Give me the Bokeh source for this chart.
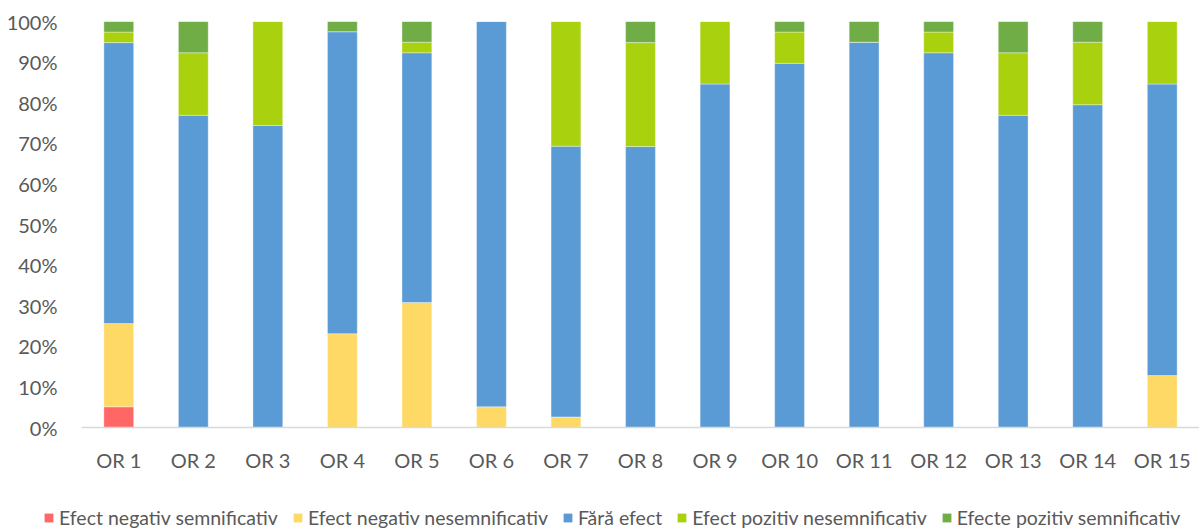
from bokeh.plotting import figure
from bokeh.models import FactorRange, Range1d, FixedTicker, PrintfTickFormatter, Legend, LegendItem
from bokeh.embed import file_html
from bokeh.resources import INLINE

categories = ["OR 1", "OR 2", "OR 3", "OR 4", "OR 5", "OR 6", "OR 7", "OR 8",
              "OR 9", "OR 10", "OR 11", "OR 12", "OR 13", "OR 14", "OR 15"]

neg_sig = [5.1, 0, 0, 0, 0, 0, 0, 0, 0, 0, 0, 0, 0, 0, 0]
neg_nonsig = [20.5, 0, 0, 23.1, 30.8, 5.1, 2.6, 0, 0, 0, 0, 0, 0, 0, 12.8]
no_effect = [69.2, 76.9, 74.4, 74.4, 61.5, 94.9, 66.7, 69.2, 84.6, 89.7, 94.9, 92.3, 76.9, 79.5, 71.8]
pos_nonsig = [2.6, 15.4, 25.6, 0, 2.6, 0, 30.7, 25.6, 15.4, 7.7, 0, 5.1, 15.4, 15.4, 15.4]
pos_sig = [2.6, 7.7, 0, 2.5, 5.1, 0, 0, 5.2, 0, 2.6, 5.1, 2.6, 7.7, 5.1, 0]

series_keys = ["neg_sig", "neg_nonsig", "no_effect", "pos_nonsig", "pos_sig"]
series_labels = ["Efect negativ semnificativ", "Efect negativ nesemnificativ", "Fără efect",
                 "Efect pozitiv nesemnificativ", "Efecte pozitiv semnificativ"]
colors = ["#FF6666", "#FFD966", "#5B9BD5", "#A9D10E", "#70AD47"]

y_ticks = [0, 10, 20, 30, 40, 50, 60, 70, 80, 90, 100]

data = dict(cat=categories, neg_sig=neg_sig, neg_nonsig=neg_nonsig, no_effect=no_effect,
            pos_nonsig=pos_nonsig, pos_sig=pos_sig)

FONT = "Lato"
TXT = "#595959"

p = figure(width=1199, height=505, output_backend="svg", toolbar_location=None,
           x_range=FactorRange(*categories, start=0, end=14.9),
           y_range=Range1d(0, 100),
           min_border_left=81, min_border_right=0, min_border_top=21, min_border_bottom=78)
p.outline_line_color = None
p.xgrid.visible = False
p.ygrid.visible = False
p.background_fill_color = "white"
p.border_fill_color = "white"

p.vbar_stack(series_keys, x="cat", width=0.4, source=data, color=colors,
             line_color="white", line_width=0.6, line_alpha=0.6)

p.yaxis.ticker = FixedTicker(ticks=y_ticks)
p.yaxis.formatter = PrintfTickFormatter(format="%d%%")
p.yaxis.axis_line_color = None
p.yaxis.major_tick_line_color = None
p.yaxis.minor_tick_line_color = None
p.yaxis.major_tick_out = 0
p.yaxis.major_label_standoff = 24
p.yaxis.major_label_text_font = FONT
p.yaxis.major_label_text_font_size = "20px"
p.yaxis.major_label_text_color = TXT

p.xaxis.axis_line_color = "#D9D9D9"
p.xaxis.axis_line_width = 1.5
p.xaxis.major_tick_line_color = None
p.xaxis.minor_tick_line_color = None
p.xaxis.major_tick_out = 0
p.xaxis.major_label_standoff = 20
p.xaxis.major_label_text_font = FONT
p.xaxis.major_label_text_font_size = "20px"
p.xaxis.major_label_text_color = TXT

# legend strip (separate root, so its frame is not aligned with the chart's)
pl = figure(width=1199, height=24, output_backend="svg", toolbar_location=None,
            x_range=Range1d(0, 1), y_range=Range1d(0, 1),
            x_axis_location=None, y_axis_location=None,
            min_border_left=0, min_border_right=0, min_border_top=0, min_border_bottom=0)
pl.xgrid.visible = False
pl.ygrid.visible = False
pl.outline_line_color = None
items = []
for lab, col in zip(series_labels, colors):
    r = pl.vbar(x=[-5], top=[0], bottom=[0], width=0.1, fill_color=col, line_color=None)
    items.append(LegendItem(label=lab, renderers=[r]))
legend = Legend(items=items, orientation="horizontal", location=(43, 0),
                glyph_width=11, glyph_height=11, label_standoff=5, spacing=14,
                label_height=20, padding=0, margin=0, border_line_color=None,
                background_fill_alpha=0,
                label_text_font=FONT, label_text_font_size="19.5px", label_text_color=TXT)
pl.add_layout(legend, "center")

open("out.html", "w").write(file_html([p, pl], INLINE))
